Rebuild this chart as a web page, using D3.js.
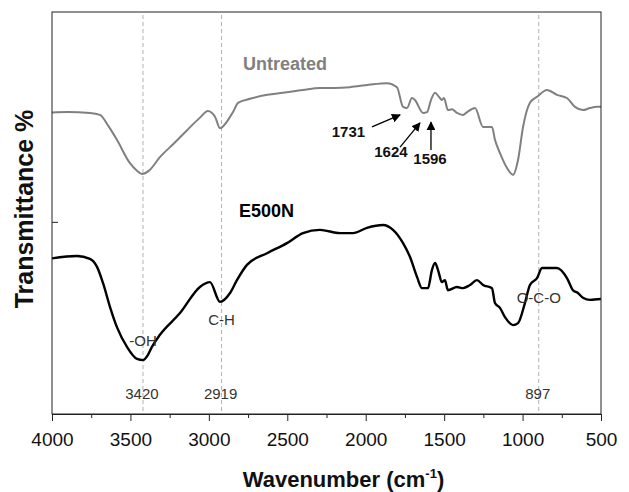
<!DOCTYPE html>
<html>
<head>
<meta charset="utf-8">
<script src="https://cdn.jsdelivr.net/npm/d3@7"></script>
<style>
  body { margin: 0; background: #fff; }
  svg { display: block; font-family: "Liberation Sans", Arial, sans-serif; }
</style>
</head>
<body>
<svg id="chart" width="629" height="492"></svg>
<script>
// FTIR spectra, transmittance in arbitrary units (0 = bottom of frame, 100 = top)
var untreatedWave = [4000, 3900, 3758, 3694, 3640, 3586, 3503, 3460, 3426, 3380, 3312, 3220, 3139, 3060, 3006,
  2960, 2929, 2865, 2846, 2814, 2738, 2627, 2527, 2400, 2292, 2200, 2100, 1980, 1864, 1801, 1762, 1737, 1705,
  1686, 1635, 1609, 1584, 1558, 1533, 1514, 1501, 1476, 1450, 1418, 1380, 1354, 1303, 1252, 1195, 1176, 1144,
  1099, 1061, 1029, 997, 953, 908, 844, 781, 717, 666, 615, 570, 526, 500];
var untreatedT = [75.0, 75.1, 74.9, 74.4, 71.6, 68.2, 62.4, 60.6, 59.7, 60.6, 63.9, 67.4, 70.6, 73.6, 75.4,
  73.9, 71.1, 73.9, 75.1, 77.4, 78.4, 79.4, 79.9, 80.6, 81.1, 81.1, 81.3, 81.9, 82.3, 81.3, 76.4, 76.1, 78.6,
  78.1, 74.9, 75.1, 78.1, 79.9, 78.9, 78.1, 78.6, 75.6, 75.8, 74.9, 74.4, 75.1, 76.1, 71.4, 71.4, 68.2, 64.9,
  61.2, 59.5, 63.2, 71.4, 77.4, 78.9, 80.6, 79.4, 78.6, 76.4, 75.6, 76.1, 76.4, 76.4];

var e500nWave = [4000, 3841, 3758, 3713, 3675, 3630, 3586, 3522, 3458, 3420, 3390, 3363, 3312, 3184, 3057, 2993,
  2929, 2865, 2821, 2757, 2629, 2502, 2400, 2292, 2164, 2081, 1992, 1890, 1826, 1762, 1718, 1673, 1641,
  1603, 1578, 1558, 1539, 1514, 1495, 1476, 1418, 1380, 1335, 1291, 1252, 1195, 1176, 1144, 1112, 1061,
  1029, 985, 953, 908, 876, 781, 717, 679, 647, 615, 570, 500];
var e500nT = [38.7, 39.3, 38.6, 36.6, 32.6, 26.6, 21.6, 16.7, 13.7, 13.4, 14.6, 16.7, 19.7, 25.1, 31.6, 32.8,
  27.9, 30.1, 33.3, 37.1, 40.0, 42.5, 45.0, 45.8, 45.0, 45.0, 46.3, 47.0, 45.8, 42.5, 39.1, 34.1, 31.3,
  31.3, 35.8, 37.6, 35.8, 32.8, 33.3, 30.8, 31.6, 31.3, 32.1, 33.3, 32.1, 31.3, 27.6, 26.4, 24.1, 22.1,
  22.6, 27.6, 32.1, 33.8, 36.3, 36.3, 33.8, 30.8, 30.1, 28.9, 28.4, 28.6];

var xTicks = [4000, 3500, 3000, 2500, 2000, 1500, 1000, 500];
var xMinorTicks = [3750, 3250, 2750, 2250, 1750, 1250, 750];

// marked bands (dashed guides)
var bandWave = [3420, 2919, 897];
var bandNames = ['-OH', 'C-H', 'O-C-O'];
var bandNameT = [16.9, 22.1, 27.6];

// arrows on the untreated spectrum: label, label position, tail, tip
var peakLabels = ['1731', '1624', '1596'];
var peakLabelWave = [2110, 1839, 1590];
var peakLabelT = [68.9, 63.9, 62.2];
var arrowFromWave = [1960, 1781, 1584];
var arrowFromT = [71.4, 66.4, 65.7];
var arrowToWave = [1781, 1654, 1584];
var arrowToT = [74.4, 72.4, 72.6];

var margin = {top: 12, right: 28, bottom: 78, left: 52};
var width = 629 - margin.left - margin.right;
var height = 492 - margin.top - margin.bottom;

var svg = d3.select('#chart');
var g = svg.append('g').attr('transform', 'translate(' + margin.left + ',' + margin.top + ')');

var x = d3.scaleLinear().domain([4000, 500]).range([0, width]);
var y = d3.scaleLinear().domain([0, 100]).range([height, 0]);

// arrow head
svg.append('defs').append('marker')
  .attr('id', 'head')
  .attr('viewBox', '0 0 10 10')
  .attr('refX', 9).attr('refY', 5)
  .attr('markerWidth', 9).attr('markerHeight', 9)
  .attr('markerUnits', 'userSpaceOnUse')
  .attr('orient', 'auto')
  .append('path').attr('d', 'M0,0L10,5L0,10z').attr('fill', '#000');

// dashed band guides
g.selectAll('.band')
  .data(bandWave)
  .enter().append('line')
  .attr('x1', function(d) { return x(d); })
  .attr('x2', function(d) { return x(d); })
  .attr('y1', 3)
  .attr('y2', height)
  .attr('stroke', '#b0b0b0')
  .attr('stroke-width', 1)
  .attr('stroke-dasharray', '4,3');

// spectra
var line = d3.line()
  .curve(d3.curveMonotoneX)
  .x(function(d) { return x(d[0]); })
  .y(function(d) { return y(d[1]); });

g.append('path')
  .datum(d3.zip(untreatedWave, untreatedT))
  .attr('fill', 'none')
  .attr('stroke', '#808080')
  .attr('stroke-width', 2)
  .attr('stroke-linejoin', 'round')
  .attr('d', line);

g.append('path')
  .datum(d3.zip(e500nWave, e500nT))
  .attr('fill', 'none')
  .attr('stroke', '#000')
  .attr('stroke-width', 2.4)
  .attr('stroke-linejoin', 'round')
  .attr('d', line);

// frame
g.append('rect')
  .attr('width', width)
  .attr('height', height)
  .attr('fill', 'none')
  .attr('stroke', '#222')
  .attr('stroke-width', 1);

// x axis with minor ticks
var xAxis = g.append('g')
  .attr('transform', 'translate(0,' + height + ')')
  .call(d3.axisBottom(x).tickValues(xTicks).tickSize(7).tickPadding(12).tickFormat(d3.format('d')));
xAxis.select('.domain').attr('stroke', '#222');
xAxis.selectAll('.tick line').attr('stroke', '#222');
xAxis.selectAll('text')
  .attr('fill', '#111')
  .style('font-size', '19px');

g.append('g')
  .attr('transform', 'translate(0,' + height + ')')
  .call(d3.axisBottom(x).tickValues(xMinorTicks).tickSize(4).tickFormat(''))
  .call(function(a) { a.select('.domain').remove(); })
  .selectAll('.tick line').attr('stroke', '#222');

// single inward tick on the left
g.append('g')
  .call(d3.axisLeft(y).tickValues([47.8]).tickSize(-6).tickFormat(''))
  .call(function(a) { a.select('.domain').remove(); })
  .selectAll('.tick line').attr('stroke', '#222');

// axis titles
var xTitle = svg.append('text')
  .attr('x', margin.left + width / 2 + 17)
  .attr('y', 487)
  .attr('text-anchor', 'middle')
  .style('font-size', '22px')
  .style('font-weight', 'bold')
  .attr('fill', '#111');
xTitle.append('tspan').text('Wavenumber (cm');
xTitle.append('tspan').attr('dy', -9).style('font-size', '13px').text('-1');
xTitle.append('tspan').attr('dy', 9).text(')');

svg.append('text')
  .attr('transform', 'translate(33,' + (margin.top + height / 2 - 4) + ') rotate(-90)')
  .attr('text-anchor', 'middle')
  .style('font-size', '25px')
  .style('font-weight', 'bold')
  .attr('fill', '#111')
  .text('Transmittance %');

// series names
g.append('text')
  .attr('x', x(2515))
  .attr('y', y(85.6))
  .attr('text-anchor', 'middle')
  .style('font-size', '18px')
  .style('font-weight', 'bold')
  .attr('fill', '#808080')
  .text('Untreated');

g.append('text')
  .attr('x', x(2808))
  .attr('y', y(49.0))
  .style('font-size', '18px')
  .style('font-weight', 'bold')
  .attr('fill', '#000')
  .text('E500N');

// band names and wavenumbers
g.selectAll('.bandName')
  .data(bandWave)
  .enter().append('text')
  .attr('x', function(d) { return x(d); })
  .attr('y', function(d, i) { return y(bandNameT[i]); })
  .attr('text-anchor', 'middle')
  .style('font-size', '15px')
  .attr('fill', '#333')
  .text(function(d, i) { return bandNames[i]; });

g.selectAll('.bandNum')
  .data(bandWave)
  .enter().append('text')
  .attr('x', function(d) { return x(d) - 1; })
  .attr('y', y(3.7))
  .attr('text-anchor', 'middle')
  .style('font-size', '15px')
  .attr('fill', '#333')
  .text(function(d) { return d; });

// peak arrows on the untreated spectrum
g.selectAll('.arrow')
  .data(peakLabels)
  .enter().append('line')
  .attr('x1', function(d, i) { return x(arrowFromWave[i]); })
  .attr('y1', function(d, i) { return y(arrowFromT[i]); })
  .attr('x2', function(d, i) { return x(arrowToWave[i]); })
  .attr('y2', function(d, i) { return y(arrowToT[i]); })
  .attr('stroke', '#000')
  .attr('stroke-width', 1.3)
  .attr('marker-end', 'url(#head)');

g.selectAll('.peak')
  .data(peakLabels)
  .enter().append('text')
  .attr('x', function(d, i) { return x(peakLabelWave[i]); })
  .attr('y', function(d, i) { return y(peakLabelT[i]); })
  .attr('text-anchor', 'middle')
  .style('font-size', '15px')
  .style('font-weight', 'bold')
  .attr('fill', '#111')
  .text(function(d) { return d; });
</script>
</body>
</html>
